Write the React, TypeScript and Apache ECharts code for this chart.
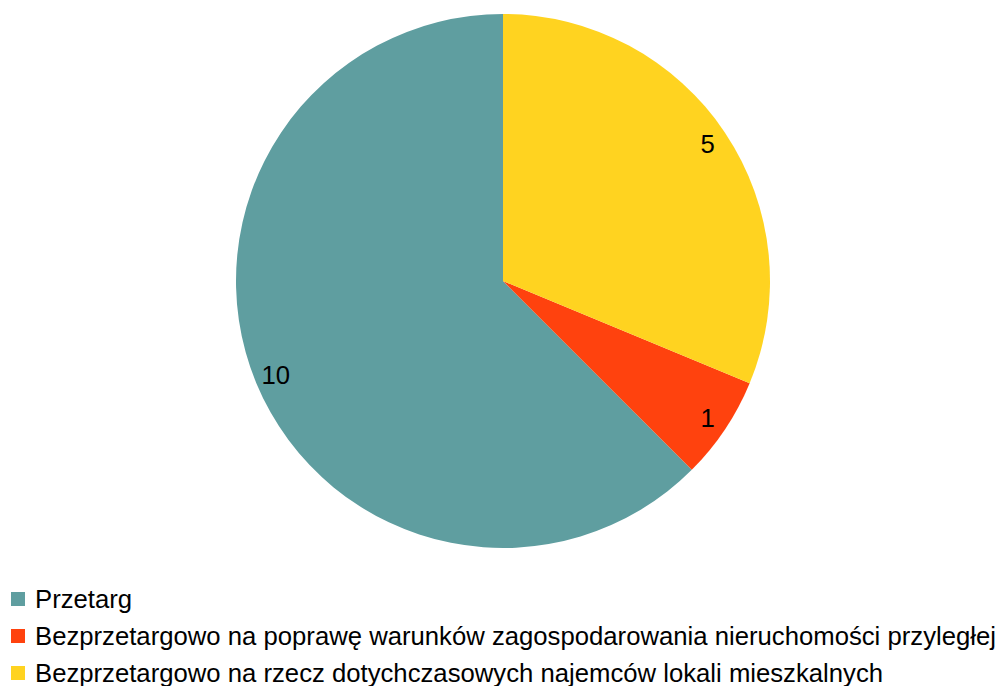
import React, { useEffect, useRef } from "react";
import * as echarts from "echarts";

const categories = [
  "Przetarg",
  "Bezprzetargowo na poprawę warunków zagospodarowania nieruchomości przyległej",
  "Bezprzetargowo na rzecz dotychczasowych najemców lokali mieszkalnych",
];
const values = [10, 1, 5];
const colors = ["#5f9ea0", "#ff420e", "#ffd320"];

export default function App() {
  const ref = useRef<HTMLDivElement>(null);
  useEffect(() => {
    document.body.style.margin = "0";
    const chart = echarts.init(ref.current!, null, { renderer: "svg" });
    const data = categories.map((name, i) => ({
      name,
      value: values[i],
      itemStyle: { color: colors[i] },
    }));
    chart.setOption({
      animation: false,
      textStyle: { fontFamily: "Liberation Sans" },
      legend: {
        orient: "vertical",
        left: 11,
        top: 586,
        height: 200,
        padding: 0,
        icon: "rect",
        itemWidth: 14,
        itemHeight: 14,
        itemGap: 11,
        selectedMode: false,
        textStyle: { fontSize: 25.7, color: "#000", fontFamily: "Liberation Sans", lineHeight: 26, padding: [0, 0, 0, 5] },
        data: categories.map((name, i) => ({ name, itemStyle: { color: colors[i] } })),
      },
      series: [
        {
          type: "pie",
          center: [503, 281],
          radius: [0, 267],
          startAngle: 90,
          clockwise: false,
          label: { show: false },
          labelLine: { show: false },
          emphasis: { disabled: true },
          data,
        },
        {
          type: "pie",
          center: [503, 281],
          radius: [219, 267],
          startAngle: 90,
          clockwise: false,
          silent: true,
          itemStyle: { color: "transparent" },
          label: {
            show: true,
            position: "inside",
            formatter: "{c}",
            fontSize: 25.7,
            color: "#000",
            fontFamily: "Liberation Sans",
          },
          labelLine: { show: false },
          emphasis: { disabled: true },
          data: categories.map((name, i) => ({ name: name + " ", value: values[i] })),
        },
      ],
    });
    return () => chart.dispose();
  }, []);
  return <div ref={ref} style={{ width: 1000, height: 686 }} />;
}
